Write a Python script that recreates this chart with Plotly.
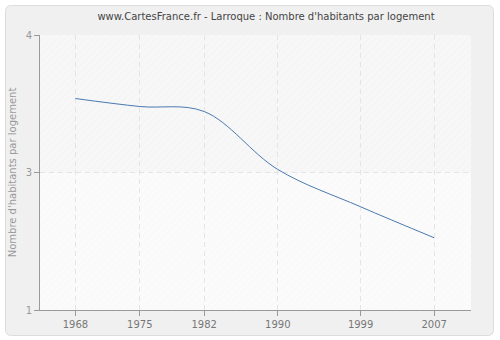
import plotly.graph_objects as go

years = [1968, 1975, 1982, 1990, 1999, 2007]
values = [3.307, 3.22, 3.165, 2.533, 2.126, 1.788]
y_tickvals = [1, 2.5, 4]
y_ticktext = ["1", "3", "4"]
title = "www.CartesFrance.fr - Larroque : Nombre d'habitants par logement"
y_title = "Nombre d'habitants par logement"

x_range = [1964.15, 2011.0]
y_range = [1, 4]

W, H = 500, 340
ML, MR, MT, MB = 40, 29, 35, 30
PW, PH = W - ML - MR, H - MT - MB


def px_to_paper_x(px):
    return (px - ML) / PW


def px_to_paper_y(py):
    return (H - MB - py) / PH


def rounded_rect(x0, y0, x1, y1, r):
    rx = r / PW
    ry = r / PH
    X0, X1 = px_to_paper_x(x0), px_to_paper_x(x1)
    Y0, Y1 = px_to_paper_y(y1), px_to_paper_y(y0)  # bottom, top
    return (f"M {X0+rx},{Y1} L {X1-rx},{Y1} Q {X1},{Y1} {X1},{Y1-ry} "
            f"L {X1},{Y0+ry} Q {X1},{Y0} {X1-rx},{Y0} L {X0+rx},{Y0} "
            f"Q {X0},{Y0} {X0},{Y0+ry} L {X0},{Y1-ry} Q {X0},{Y1} {X0+rx},{Y1} Z")


fig = go.Figure()

mid = y_tickvals[1]
xc = (x_range[0] + x_range[1]) / 2
xw = x_range[1] - x_range[0]
# hatched backgrounds
fig.add_trace(go.Bar(x=[xc], y=[y_range[1] - mid], base=[mid], width=[xw],
                     marker=dict(color="rgba(0,0,0,0)", line_width=0,
                                 pattern=dict(shape="/", fgcolor="#e9e9e9", size=5, solidity=0.15)),
                     hoverinfo="skip", showlegend=False))
fig.add_trace(go.Bar(x=[xc], y=[mid - y_range[0]], base=[y_range[0]], width=[xw],
                     marker=dict(color="rgba(0,0,0,0)", line_width=0,
                                 pattern=dict(shape="/", fgcolor="#f1f1f1", size=5, solidity=0.15)),
                     hoverinfo="skip", showlegend=False))

fig.add_trace(go.Scatter(x=years, y=values, mode="lines",
                         line=dict(color="#4a79b0", width=1, shape="spline", smoothing=1.0),
                         hoverinfo="skip", showlegend=False))

shapes = [
    dict(type="path", xref="paper", yref="paper", layer="below",
         path=rounded_rect(5.5, 5.5, 493.5, 335.5, 6),
         fillcolor="#f0f0f0", line=dict(color="#dcdcdc", width=1)),
    dict(type="rect", xref="x", yref="y", layer="below",
         x0=x_range[0], x1=x_range[1], y0=mid, y1=y_range[1],
         fillcolor="#f7f7f7", line_width=0),
    dict(type="rect", xref="x", yref="y", layer="below",
         x0=x_range[0], x1=x_range[1], y0=y_range[0], y1=mid,
         fillcolor="#fbfbfb", line_width=0),
]

fig.update_layout(
    width=W, height=H,
    margin=dict(l=ML, r=MR, t=MT, b=MB, pad=0, autoexpand=False),
    paper_bgcolor="white",
    plot_bgcolor="#f7f7f7",
    barmode="overlay",
    font=dict(family="DejaVu Sans", size=10, color="#666666"),
    title=dict(text=title, x=266 / W, xanchor="center", y=1 - 16 / H, yanchor="middle",
               font=dict(family="DejaVu Sans", size=10, color="#444444")),
    shapes=shapes,
    xaxis=dict(range=x_range, tickvals=years, ticktext=[str(y) for y in years],
               showgrid=True, gridcolor="#e4e4e4", griddash="5px,4px", gridwidth=1,
               showline=True, linecolor="#999999", linewidth=1,
               ticks="outside", ticklen=5, tickcolor="#999999",
               zeroline=False, fixedrange=True, automargin=False,
               tickfont=dict(size=10, color="#777777")),
    yaxis=dict(range=y_range, tickvals=y_tickvals, ticktext=y_ticktext,
               showgrid=True, gridcolor="#e4e4e4", griddash="5px,4px", gridwidth=1,
               showline=True, linecolor="#999999", linewidth=1,
               ticks="outside", ticklen=5, tickcolor="#999999",
               zeroline=False, fixedrange=True, automargin=False,
               title=dict(text=y_title, standoff=7, font=dict(size=10, color="#999999")),
               tickfont=dict(size=10, color="#999999")),
)

fig.write_html("out.html", config={"displayModeBar": False})
